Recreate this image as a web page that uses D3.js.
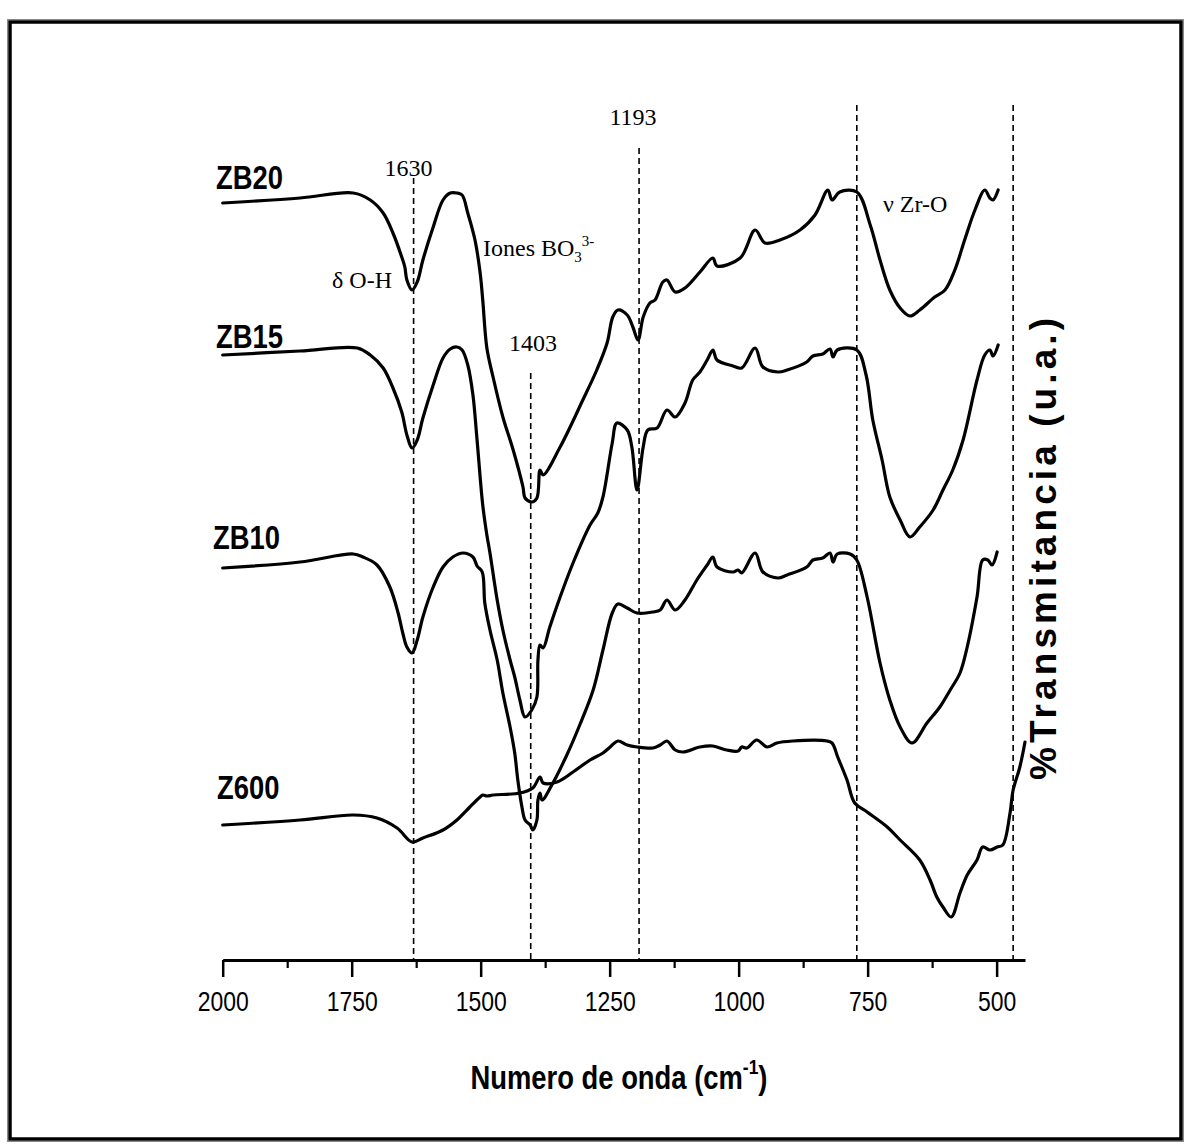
<!DOCTYPE html>
<html>
<head>
<meta charset="utf-8">
<script src="https://cdn.jsdelivr.net/npm/d3@7"></script>
<style>
  html, body { margin: 0; padding: 0; background: #fff; }
  svg { display: block; }
  .sans { font-family: "Liberation Sans", Arial, sans-serif; }
  .serif { font-family: "Liberation Serif", "Times New Roman", serif; }
</style>
</head>
<body>
<svg id="chart" width="1190" height="1148"></svg>
<script>
// FTIR spectra, wavenumber (cm-1) vs transmittance (arbitrary units, curves stacked)
const seriesNames = ["ZB20", "ZB15", "ZB10", "Z600"];

const ZB20 = [
  [2000,757],[1850,762],[1747,767],[1714,760],[1689,747],[1670,727],[1653,703],[1647,693],
  [1643,680],[1633,670],[1623,678],[1612,700],[1592,733],[1573,760],[1559,767],[1546,767],
  [1536,765],[1525,747],[1511,720],[1501,687],[1496,660],[1488,612],[1476,583],[1457,543],
  [1437,510],[1418,473],[1414,462],[1401,458],[1391,462],[1385,490],[1379,485],[1346,513],
  [1302,560],[1275,590],[1255,617],[1244,643],[1234,650],[1216,645],[1205,633],[1195,620],
  [1185,643],[1172,657],[1162,660],[1147,678],[1139,680],[1123,668],[1104,672],[1075,688],
  [1050,702],[1042,694],[997,702],[968,730],[949,717],[920,720],[881,730],[852,745],
  [827,770],[819,760],[804,768],[771,768],[745,735],[726,700],[707,670],[687,652],
  [668,644],[649,650],[620,663],[600,670],[581,690],[562,720],[542,750],[523,770],
  [513,762],[507,760],[497,770]
];

const ZB15 = [
  [2000,605],[1850,609],[1739,612],[1714,605],[1689,592],[1670,572],[1653,548],[1643,525],
  [1633,512],[1623,520],[1612,542],[1592,575],[1573,602],[1559,611],[1546,613],[1536,610],
  [1525,595],[1515,565],[1507,520],[1496,455],[1488,425],[1482,407],[1468,360],[1457,330],
  [1443,300],[1434,283],[1424,260],[1414,243],[1401,250],[1391,263],[1389,300],[1385,315],
  [1379,312],[1366,333],[1346,363],[1321,397],[1288,435],[1273,447],[1263,463],[1245,517],
  [1236,537],[1216,530],[1207,513],[1197,470],[1185,513],[1176,530],[1158,532],[1139,550],
  [1123,543],[1104,557],[1089,580],[1075,588],[1061,600],[1050,610],[1042,600],[1011,594],
  [994,592],[968,612],[953,593],[924,588],[906,590],[868,598],[856,604],[837,606],
  [823,611],[817,603],[809,610],[771,610],[753,585],[740,540],[722,500],[707,463],
  [687,440],[668,423],[649,433],[623,450],[604,470],[585,490],[565,520],[538,580],
  [523,605],[513,610],[507,604],[497,615]
];

const ZB10 = [
  [2000,392],[1850,398],[1747,406],[1728,403],[1701,395],[1676,373],[1660,347],[1651,327],
  [1643,313],[1633,307],[1623,320],[1612,343],[1592,373],[1573,393],[1554,403],[1534,407],
  [1515,403],[1507,394],[1497,388],[1492,357],[1482,330],[1468,300],[1457,267],[1443,233],
  [1434,207],[1428,180],[1420,153],[1414,140],[1404,135],[1399,130],[1391,140],[1389,160],
  [1385,167],[1381,160],[1360,177],[1333,205],[1308,235],[1282,270],[1263,310],[1245,347],
  [1234,356],[1216,352],[1197,347],[1166,348],[1152,350],[1139,360],[1123,350],[1104,360],
  [1081,380],[1061,395],[1050,403],[1042,393],[1011,388],[1001,390],[994,387],[968,407],
  [953,388],[924,382],[906,385],[868,393],[856,400],[837,402],[823,407],[817,398],
  [809,406],[784,406],[771,400],[751,363],[726,297],[707,260],[687,233],[664,217],
  [635,237],[610,253],[590,270],[571,287],[557,313],[538,363],[527,400],[517,400],
  [509,395],[499,408]
];

const Z600 = [
  [2000,135],[1850,140],[1747,145],[1701,142],[1662,132],[1633,118],[1612,122],[1573,130],
  [1546,140],[1521,153],[1501,163],[1496,165],[1488,164],[1476,165],[1424,167],[1399,172],
  [1385,183],[1379,177],[1352,178],[1321,188],[1288,200],[1263,207],[1249,213],[1234,219],
  [1216,215],[1197,213],[1166,212],[1152,215],[1139,219],[1123,210],[1108,208],[1075,213],
  [1050,214],[1023,210],[1001,209],[994,213],[984,212],[965,220],[945,213],[926,217],
  [895,219],[829,219],[819,217],[808,203],[790,180],[775,157],[751,148],[712,133],
  [687,120],[649,100],[629,80],[616,63],[604,53],[588,43],[571,67],[557,85],
  [538,100],[527,113],[513,110],[499,113],[488,115],[474,147],[468,170],[455,193],
  [445,218]
];

const seriesValues = [ZB20, ZB15, ZB10, Z600];

// x-axis ticks (cm-1)
const majorTicks = [2000, 1750, 1500, 1250, 1000, 750, 500];
const minorTicks = [1875, 1625, 1375, 1125, 875, 625];

// reference band positions (cm-1)
const bandLines = [1630, 1403, 1193, 771, 468];

const svg = d3.select("#chart");

// scales
const x = d3.scaleLinear().domain([2000, 445]).range([222.7, 1025]);
const y = d3.scaleLinear().domain([0, 860]).range([960, 100]);

// condensed sans text: horizontally squeezed group anchored at (px, py)
function narrowText(parent, px, py, sx) {
  return parent.append("g")
    .attr("transform", `translate(${px},${py}) scale(${sx},1)`)
    .append("text")
    .attr("class", "sans")
    .attr("fill", "#000");
}

// outer frame
svg.append("rect")
  .attr("x", 7.5).attr("y", 19.5).attr("width", 1176).attr("height", 1122)
  .attr("fill", "none").attr("stroke", "#888").attr("stroke-width", 1);
svg.append("rect")
  .attr("x", 10).attr("y", 22).attr("width", 1171).attr("height", 1117)
  .attr("fill", "none").attr("stroke", "#000").attr("stroke-width", 3.5);

// dashed band markers, each with its own top end (value units)
const bandTops = [782, 587, 812, 855, 855];
svg.append("g").selectAll("line")
  .data(bandLines)
  .join("line")
  .attr("x1", d => x(d)).attr("x2", d => x(d))
  .attr("y1", (d, i) => y(bandTops[i])).attr("y2", y(0))
  .attr("stroke", "#000").attr("stroke-width", 1.6)
  .attr("stroke-dasharray", "6,4");

// spectra
const line = d3.line()
  .x(d => x(d[0]))
  .y(d => y(d[1]))
  .curve(d3.curveCatmullRom.alpha(0.5));

svg.append("g").selectAll("path")
  .data(seriesValues)
  .join("path")
  .attr("d", line)
  .attr("fill", "none")
  .attr("stroke", "#000")
  .attr("stroke-width", 3.2)
  .attr("stroke-linejoin", "round")
  .attr("stroke-linecap", "round");

// x axis: major and minor ticks
const axisG = svg.append("g").attr("transform", `translate(0,${y(0)})`);
axisG.append("g")
  .call(d3.axisBottom(x).tickValues(minorTicks).tickSize(8).tickFormat(""))
  .call(g => g.select(".domain").remove())
  .call(g => g.selectAll("line").attr("stroke", "#000").attr("stroke-width", 2.2));
axisG.append("g")
  .call(d3.axisBottom(x).tickValues(majorTicks).tickSize(17).tickSizeOuter(0).tickPadding(14).tickFormat(d3.format("d")))
  .call(g => g.select(".domain").attr("stroke", "#000").attr("stroke-width", 3.2))
  .call(g => g.selectAll("line").attr("stroke", "#000").attr("stroke-width", 2.5))
  .call(g => g.selectAll("text")
    .attr("class", "sans")
    .attr("font-size", 28)
    .attr("fill", "#000")
    .attr("transform", "scale(0.82,1)"));

// x axis title
const xt = narrowText(svg, 619, 1089, 0.83)
  .attr("text-anchor", "middle")
  .attr("font-size", 33).attr("font-weight", "bold");
xt.append("tspan").text("Numero de onda (cm");
xt.append("tspan").attr("font-size", 21).attr("dy", -15).text("-1");
xt.append("tspan").attr("dy", 15).text(")");

// y axis title (right side, rotated)
svg.append("text")
  .attr("class", "sans")
  .attr("transform", "translate(1056,549) rotate(-90)")
  .attr("text-anchor", "middle")
  .attr("font-size", 37).attr("font-weight", "bold")
  .attr("textLength", 462).attr("lengthAdjust", "spacing")
  .text("%Transmitancia (u.a.)");

// series labels, placed just above each curve's left end
const labelPos = [[216, 189], [216, 348], [213, 549], [217, 799]];
seriesNames.forEach((name, i) => {
  narrowText(svg, labelPos[i][0], labelPos[i][1], 0.83)
    .attr("font-size", 33).attr("font-weight", "bold")
    .text(name);
});

// band annotations
const ann = svg.append("g").attr("class", "serif").attr("font-size", 24).attr("fill", "#000");
ann.append("text").attr("x", x(1630) - 5).attr("y", 176).attr("text-anchor", "middle").text("1630");
ann.append("text").attr("x", 633).attr("y", 125).attr("text-anchor", "middle").text("1193");
ann.append("text").attr("x", 533).attr("y", 351).attr("text-anchor", "middle").text("1403");
ann.append("text").attr("x", 332).attr("y", 288).text("δ O-H");
ann.append("text").attr("x", 883).attr("y", 212).text("ν Zr-O");
const bo = ann.append("text").attr("x", 483).attr("y", 256);
bo.append("tspan").text("Iones BO");
bo.append("tspan").attr("font-size", 15).attr("dy", 6).text("3");
bo.append("tspan").attr("font-size", 15).attr("dy", -16).text("3-");
</script>
</body>
</html>
